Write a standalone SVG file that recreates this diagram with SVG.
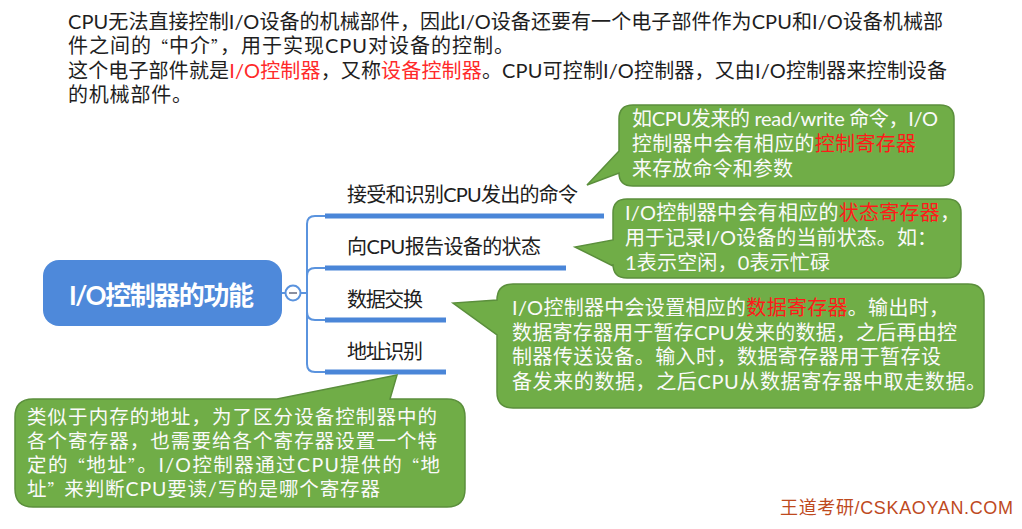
<svg xmlns="http://www.w3.org/2000/svg" width="1022" height="529" viewBox="0 0 1022 529">
<style>
text{font-family:"Lato","Noto Sans CJK SC",sans-serif;}
.q4{font-family:"Noto Sans CJK SC",sans-serif;font-size:16px;}
.top{font-size:20px;fill:#1e1e1e;}
.red{fill:#ff2a2a;}
.bred{fill:#ff1a1a;}
.br{font-size:20px;fill:#202020;}
.bt{font-size:20px;fill:#fafafa;}
.bt4{font-size:19.5px;fill:#fafafa;}
.bub{fill:#70ad47;stroke:#5b8f3c;stroke-width:1.5;}
.bar{stroke:#4a86d8;stroke-width:5;}
.con{fill:none;stroke:#5a93de;stroke-width:2;}
.wm{font-family:"Liberation Sans","Noto Sans CJK SC",sans-serif;font-size:18px;fill:#be4a1e;}
</style>
<rect width="1022" height="529" fill="#ffffff"/>
<g id="intro">
<text class="top" x="68" y="29" textLength="875" lengthAdjust="spacing">CPU无法直接控制I/O设备的机械部件，因此I/O设备还要有一个电子部件作为CPU和I/O设备机械部</text>
<text class="top" x="68" y="53" textLength="446" lengthAdjust="spacing">件之间的<tspan class="q4">“</tspan>中介<tspan class="q4">”</tspan>，用于实现CPU对设备的控制。</text>
<text class="top" x="68" y="78" textLength="879" lengthAdjust="spacing">这个电子部件就是<tspan class="red">I/O控制器</tspan>，又称<tspan class="red">设备控制器</tspan>。CPU可控制I/O控制器，又由I/O控制器来控制设备</text>
<text class="top" x="68" y="102" textLength="124" lengthAdjust="spacing">的机械部件。</text>
</g>
<g id="connectors">
<line class="con" x1="282" y1="293" x2="285" y2="293"/>
<line class="con" x1="301" y1="293" x2="307" y2="293"/>
<path class="con" d="M307,293 V224 Q307,216 315,216 H325"/>
<path class="con" d="M307,293 V276 Q307,268 315,268 H325"/>
<path class="con" d="M307,293 V312 Q307,320 315,320 H325"/>
<path class="con" d="M307,293 V364 Q307,372 315,372 H325"/>
</g>
<g id="root">
<rect x="43" y="260" width="239" height="66" rx="16" fill="#4e89da"/>
<text x="69" y="305" textLength="185" lengthAdjust="spacing" style="font-size:26px;font-weight:bold;fill:#ffffff;">I/O控制器的功能</text>
<circle cx="293" cy="293" r="7.5" fill="#ffffff" stroke="#5a93de" stroke-width="2"/>
<line x1="289" y1="293" x2="297" y2="293" stroke="#8a8fa0" stroke-width="2"/>
</g>
<g id="branch1">
<text class="br" x="347" y="202" textLength="231" lengthAdjust="spacing">接受和识别CPU发出的命令</text>
<line class="bar" x1="325" y1="216" x2="604" y2="216"/>
</g>
<g id="branch2">
<text class="br" x="347" y="254" textLength="194" lengthAdjust="spacing">向CPU报告设备的状态</text>
<line class="bar" x1="325" y1="268" x2="566" y2="268"/>
</g>
<g id="branch3">
<text class="br" x="347" y="307" textLength="76" lengthAdjust="spacing">数据交换</text>
<line class="bar" x1="325" y1="320" x2="446" y2="320"/>
</g>
<g id="branch4">
<text class="br" x="347" y="359" textLength="76" lengthAdjust="spacing">地址识别</text>
<line class="bar" x1="325" y1="372" x2="446" y2="372"/>
</g>
<g id="note1">
<path class="bub" d="M633,105 H940 Q954,105 954,119 V172 Q954,186 940,186 H633 Q619,186 619,173 L587,185 L619,151 V119 Q619,105 633,105 Z"/>
<text class="bt" x="632" y="126" textLength="306" lengthAdjust="spacing">如CPU发来的 read/write 命令，I/O</text>
<text class="bt" x="632" y="151" textLength="284" lengthAdjust="spacing">控制器中会有相应的<tspan class="bred">控制寄存器</tspan></text>
<text class="bt" x="632" y="176" textLength="161" lengthAdjust="spacing">来存放命令和参数</text>
</g>
<g id="note2">
<path class="bub" d="M627,199 H947 Q961,199 961,213 V264 Q961,278 947,278 H627 Q613,278 613,264 V266 L575,247 L613,240 V213 Q613,199 627,199 Z"/>
<text class="bt" x="625" y="220" textLength="335" lengthAdjust="spacing">I/O控制器中会有相应的<tspan class="bred">状态寄存器</tspan>，</text>
<text class="bt" x="625" y="245" textLength="312" lengthAdjust="spacing">用于记录I/O设备的当前状态。如：</text>
<text class="bt" x="625" y="270" textLength="205" lengthAdjust="spacing">1表示空闲，0表示忙碌</text>
</g>
<g id="note3">
<path class="bub" d="M513,284 H968 Q984,284 984,300 V392 Q984,408 968,408 H513 Q497,408 497,392 V335 L453,303 L497,300 Q497,284 513,284 Z"/>
<text class="bt" x="512" y="315" textLength="437" lengthAdjust="spacing">I/O控制器中会设置相应的<tspan class="bred">数据寄存器</tspan>。输出时，</text>
<text class="bt" x="512" y="339.5" textLength="445" lengthAdjust="spacing">数据寄存器用于暂存CPU发来的数据，之后再由控</text>
<text class="bt" x="512" y="364" textLength="429" lengthAdjust="spacing">制器传送设备。输入时，数据寄存器用于暂存设</text>
<text class="bt" x="512" y="388.5" textLength="474" lengthAdjust="spacing">备发来的数据，之后CPU从数据寄存器中取走数据。</text>
</g>
<g id="note4">
<path class="bub" d="M33,399 H277 L397,375 L390,399 H447 Q465,399 465,417 V489 Q465,507 447,507 H33 Q15,507 15,489 V417 Q15,399 33,399 Z"/>
<text class="bt4" x="27" y="424" textLength="410" lengthAdjust="spacing">类似于内存的地址，为了区分设备控制器中的</text>
<text class="bt4" x="27" y="448" textLength="410" lengthAdjust="spacing">各个寄存器，也需要给各个寄存器设置一个特</text>
<text class="bt4" x="27" y="472" textLength="413" lengthAdjust="spacing">定的<tspan class="q4">“</tspan>地址<tspan class="q4">”</tspan>。I/O控制器通过CPU提供的<tspan class="q4">“</tspan>地</text>
<text class="bt4" x="27" y="496" textLength="353" lengthAdjust="spacing">址<tspan class="q4">”</tspan>来判断CPU要读/写的是哪个寄存器</text>
</g>
<g id="watermark">
<text class="wm" x="780" y="514" textLength="233" lengthAdjust="spacing">王道考研/CSKAOYAN.COM</text>
</g>
</svg>
